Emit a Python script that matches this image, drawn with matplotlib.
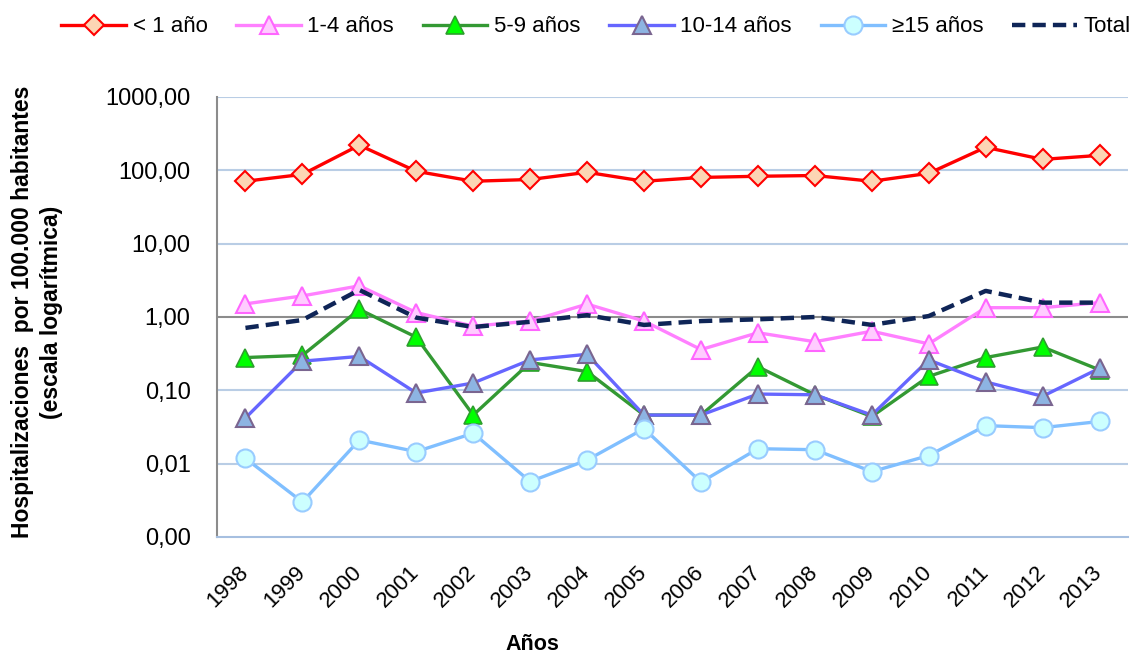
import numpy as np
import matplotlib
matplotlib.use('Agg')
import matplotlib.pyplot as plt
from matplotlib.ticker import FixedLocator, FuncFormatter, NullLocator

plt.rcParams['font.family'] = ['Liberation Sans', 'DejaVu Sans']

years = ['1998', '1999', '2000', '2001', '2002', '2003', '2004', '2005',
         '2006', '2007', '2008', '2009', '2010', '2011', '2012', '2013']

# hospitalizaciones por 100.000 habitantes
menor_1 = [71, 88, 220, 97, 71, 75, 94, 71, 80, 83, 85, 71, 91, 206, 141, 160]
de_1_4 = [1.51, 1.94, 2.66, 1.15, 0.75, 0.88, 1.50, 0.88,
          0.36, 0.61, 0.46, 0.64, 0.43, 1.34, 1.34, 1.57]
de_5_9 = [0.28, 0.30, 1.27, 0.53, 0.046, 0.24, 0.18, 0.046,
          0.046, 0.21, 0.087, 0.044, 0.155, 0.28, 0.39, 0.19]
de_10_14 = [0.042, 0.25, 0.29, 0.092, 0.126, 0.26, 0.31, 0.046,
            0.046, 0.089, 0.087, 0.046, 0.26, 0.13, 0.083, 0.20]
mayor_15 = [0.0118, 0.0030, 0.021, 0.0146, 0.026, 0.0057, 0.0112, 0.030,
            0.0056, 0.016, 0.0155, 0.0078, 0.0129, 0.033, 0.031, 0.0376]
total = [0.71, 0.91, 2.34, 0.98, 0.73, 0.86, 1.06, 0.78,
         0.88, 0.93, 1.00, 0.78, 1.03, 2.27, 1.57, 1.57]

fig = plt.figure(figsize=(11.33, 6.53), dpi=100)
ax = fig.add_axes([217 / 1133, 1 - 537 / 653, (1128 - 217) / 1133, (537 - 97) / 653])

x = np.arange(len(years))
lw = 2.4
ms = 11

ax.plot(x, menor_1, color='#FF0000', lw=lw, marker='D', ms=ms - 1,
        mfc='#FCD5B4', mec='#FF0000', mew=1.5, label='< 1 año', zorder=5)
ax.plot(x, de_1_4, color='#FF80FF', lw=lw, marker='^', ms=ms + 2,
        mfc='#FFCCFF', mec='#FF66FF', mew=1.5, label='1-4 años', zorder=4)
ax.plot(x, de_5_9, color='#339933', lw=lw, marker='^', ms=ms + 2,
        mfc='#00FF00', mec='#2E9E2E', mew=1.2, label='5-9 años', zorder=4)
ax.plot(x, de_10_14, color='#6666FF', lw=lw, marker='^', ms=ms + 2,
        mfc='#8DB4E2', mec='#7A6590', mew=1.5, label='10-14 años', zorder=4)
ax.plot(x, mayor_15, color='#80BFFF', lw=lw, marker='o', ms=ms + 2,
        mfc='#CCFFFF', mec='#99CCFF', mew=1.5, label='≥15 años', zorder=4)
ax.plot(x, total, color='#0F2557', lw=3.2, ls=(0, (3, 1.6)),
        label='Total', zorder=6)

ax.set_yscale('log')
ax.set_ylim(0.001, 1000)
ax.set_xlim(-0.5, len(years) - 0.5)
ax.yaxis.set_major_locator(FixedLocator([0.001, 0.01, 0.1, 1, 10, 100, 1000]))
ax.yaxis.set_minor_locator(NullLocator())
ax.yaxis.set_major_formatter(FuncFormatter(lambda v, p: ('%.2f' % v).replace('.', ',')))
for v in [0.01, 0.1, 10, 100, 1000]:
    ax.axhline(v, color='#B9CDE5', lw=1.5, zorder=1)
ax.axhline(1, color='#8C8C8C', lw=1.5, zorder=1)

ax.set_xticks(x)
ax.set_xticklabels(years, rotation=45, ha='right', va='center', rotation_mode='anchor')
ax.tick_params(axis='x', length=0, pad=23, labelsize=16)
ax.tick_params(axis='y', length=0, pad=19, labelsize=17)

for s in ['top', 'right']:
    ax.spines[s].set_visible(False)
ax.spines['left'].set_color('#8C8C8C')
ax.spines['left'].set_linewidth(1.5)
ax.spines['bottom'].set_color('#A6BFE0')
ax.spines['bottom'].set_linewidth(1.5)

fig.text(37 / 1133, 1 - 312 / 653,
         'Hospitalizaciones  por 100.000 habitantes\n(escala logarítmica)',
         rotation=90, ha='center', va='center', fontsize=16.5, fontweight='bold',
         linespacing=1.3)
fig.text(532 / 1133, 1 - 644 / 653, 'Años', ha='center', va='center',
         fontsize=15.5, fontweight='bold')

fig.legend(loc='center', bbox_to_anchor=(596 / 1133, 1 - 27 / 653), ncol=6,
           frameon=False, fontsize=16, handlelength=2.9, columnspacing=1.3,
           handletextpad=0.3, borderaxespad=0)

fig.savefig('out.png', dpi=100)
